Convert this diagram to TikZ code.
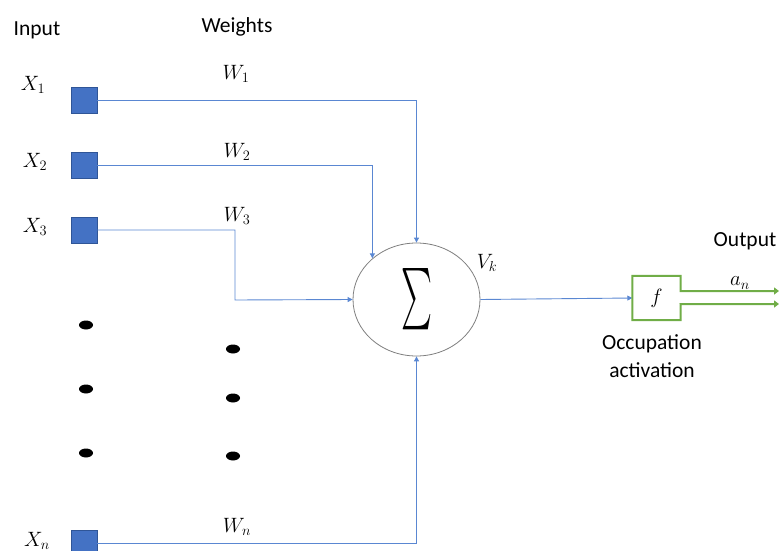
\documentclass[tikz,border=0pt]{standalone}
\usepackage{fontspec}
\setmainfont{Carlito}
\usetikzlibrary{shapes.geometric,arrows.meta}
\definecolor{sqblue}{RGB}{68,114,196}
\definecolor{sqedge}{RGB}{47,85,151}
\definecolor{wireblue}{RGB}{90,135,210}
\definecolor{fgreen}{RGB}{112,173,71}
\definecolor{ringgray}{RGB}{127,127,127}
\begin{document}
\begin{tikzpicture}[x=1pt,y=-1pt,
  sq/.style={fill=sqblue,draw=sqedge,line width=0.6pt,minimum size=26pt,inner sep=0pt},
  wire/.style={draw=wireblue,line width=0.9pt,-{Triangle[width=5pt,length=5pt]}},
  lbl/.style={inner sep=0pt,font=\fontsize{21.5}{26}\selectfont},
  mlbl/.style={inner sep=0pt,font=\fontsize{22}{26}\selectfont},
  dot/.style={ellipse,fill=black,minimum width=14pt,minimum height=9pt,inner sep=0pt},
  gline/.style={draw=fgreen,line width=2pt}]
\useasboundingbox (0,0) rectangle (779,551);
% inputs
\node[sq] (x1) at (84,100) {};
\node[sq] (x2) at (84,165) {};
\node[sq] (x3) at (84,230) {};
\node[sq] (xn) at (84,543) {};
% summation
\node[ellipse,draw=ringgray,line width=0.8pt,minimum width=127pt,minimum height=113pt,inner sep=0pt] (c) at (416.5,299.5) {\resizebox{31pt}{46pt}{$\sum$}};
% activation box
\node[minimum width=48pt,minimum height=44pt,inner sep=0pt,font=\fontsize{22}{26}\selectfont] (f) at (656.5,298) {$f$};
\coordinate (p1) at (680.5,291);
\coordinate (p2) at (680.5,304);
\coordinate (a1) at (779,291);
\coordinate (a2) at (779,304);
\coordinate (k3) at (235,300);
% labels
\node[lbl] (tin) at (37,30) {Input};
\node[lbl] (tw) at (237,27) {Weights};
\node[mlbl] (lx1) at (33,85) {$X_1$};
\node[mlbl] (lx2) at (35,162) {$X_2$};
\node[mlbl] (lx3) at (35,227) {$X_3$};
\node[mlbl] (lxn) at (37,541) {$X_n$};
\node[mlbl] (lw1) at (236,74) {$W_1$};
\node[mlbl] (lw2) at (237,152) {$W_2$};
\node[mlbl] (lw3) at (237,216) {$W_3$};
\node[mlbl] (lwn) at (237,527) {$W_n$};
\node[mlbl] (lvk) at (487,263) {$V_k$};
\node[lbl] (tout) at (745,241) {Output};
\node[mlbl] (lan) at (740,283) {$a_n$};
\node[lbl] (tocc) at (652,344) {Occupation};
\node[lbl] (tact) at (652,370) {activation};
% dots
\node[dot] (d1) at (86,325) {};
\node[dot] (d2) at (86,389) {};
\node[dot] (d3) at (86,453) {};
\node[dot] (d4) at (233,349) {};
\node[dot] (d5) at (233,398) {};
\node[dot] (d6) at (233,456) {};
% connectors
\draw[wire] (x1.east) -| (c.north);
\draw[wire] (x2.east) -| (c.137.8);
\draw[wire] (x3.east) -| (k3) -- (c.west);
\draw[wire] (xn.east) -| (c.south);
\draw[wire] (c.east) -- (f.west);
\draw[gline,{Triangle[width=7pt,length=5pt]}-{Triangle[width=7pt,length=5pt]}] (a1) -- (p1) |- (f.north west) |- (f.south east) -- (p2) -- (a2);
\end{tikzpicture}
\end{document}
